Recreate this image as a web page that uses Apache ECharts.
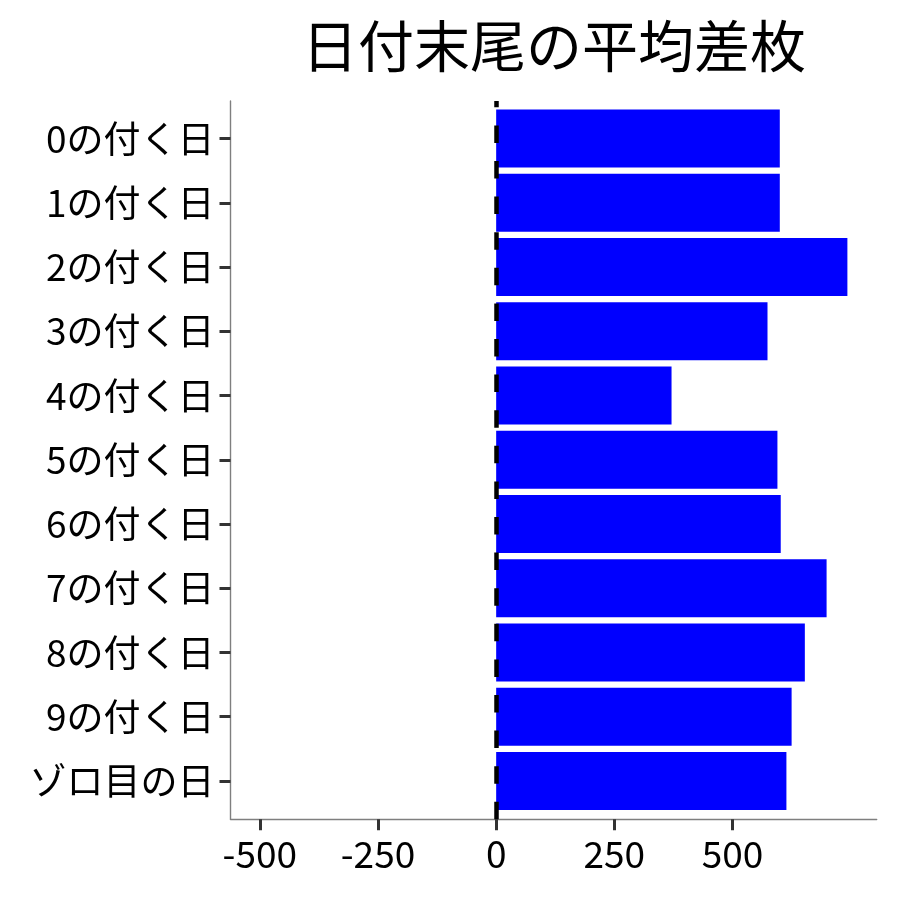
<!DOCTYPE html>
<html>
<head>
<meta charset="utf-8">
<script src="https://cdn.jsdelivr.net/npm/echarts@6/dist/echarts.min.js"></script>
<style>
html,body{margin:0;padding:0;background:#fff;}
#c{width:900px;height:900px;}
</style>
</head>
<body>
<div id="c"></div>
<script>
const categories = ['0の付く日','1の付く日','2の付く日','3の付く日','4の付く日','5の付く日','6の付く日','7の付く日','8の付く日','9の付く日','ゾロ目の日'];
const values = [600, 600, 743, 574, 371, 595, 602, 699, 653, 625, 614];
const xTicks = [-500, -250, 0, 250, 500];
const xMin = -562, xMax = 805;
const titleText = '日付末尾の平均差枚';

const FONT = 'Noto Sans CJK JP';
const chart = echarts.init(document.getElementById('c'), null, {renderer:'canvas'});
chart.setOption({
  backgroundColor:'#ffffff',
  animation:false,
  title:{
    text:titleText,
    left:549, top:13, textAlign:'center',
    textStyle:{fontFamily:FONT, fontSize:56, fontWeight:'normal', color:'#000'}
  },
  grid:[
    {left:230.5, right:23.3, top:106.4, bottom:86.9},
    {left:230.5, right:23.3, top:101, bottom:80.7}
  ],
  xAxis:[
    {gridIndex:0, type:'value', min:xMin, max:xMax, show:false, splitLine:{show:false}, axisLine:{onZero:false}},
    {gridIndex:1, type:'value', min:xMin, max:xMax, splitLine:{show:false},
      axisLine:{show:true, onZero:false, lineStyle:{color:'#7f7f7f', width:1.4}},
      axisTick:{show:true, customValues:xTicks, length:11, lineStyle:{color:'#333', width:3}},
      axisLabel:{show:true, customValues:xTicks, margin:16, fontFamily:FONT, fontSize:37, color:'#000'}}
  ],
  yAxis:[
    {gridIndex:0, type:'category', data:categories, inverse:true,
      axisLine:{show:false, onZero:false},
      axisTick:{show:true, alignWithLabel:true, length:11, lineStyle:{color:'#333', width:3}},
      axisLabel:{margin:16, fontFamily:FONT, fontSize:37, color:'#000'},
      splitLine:{show:false}},
    {gridIndex:1, type:'value', min:0, max:1, splitLine:{show:false},
      axisLine:{show:true, onZero:false, lineStyle:{color:'#7f7f7f', width:1.4}},
      axisTick:{show:false}, axisLabel:{show:false}}
  ],
  series:[
    {type:'bar', xAxisIndex:0, yAxisIndex:0, data:values, barCategoryGap:'10%',
      itemStyle:{color:'#0000ff'}, z:2},
    {type:'line', xAxisIndex:1, yAxisIndex:1, data:[], silent:true, z:100, zlevel:1,
      markLine:{symbol:'none', silent:true, label:{show:false}, animation:false, z:100,
        lineStyle:{color:'#000', width:4.5, type:[17.5,18.1]},
        data:[{xAxis:0}]}}
  ]
});
</script>
</body>
</html>
